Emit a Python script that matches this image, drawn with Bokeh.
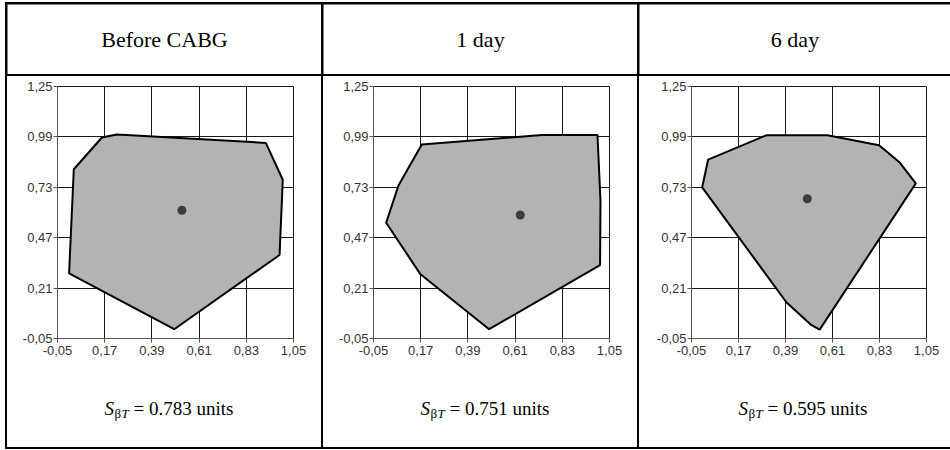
from bokeh.plotting import figure
from bokeh.layouts import row, column
from bokeh.models import Range1d, FixedTicker, CustomJSTickFormatter, Label
from bokeh.embed import file_html
from bokeh.resources import INLINE

# ---------------- data ----------------
titles = ["Before CABG", "1 day", "6 day"]
s_values = ["0.783", "0.751", "0.595"]
x_ticks = [-0.05, 0.17, 0.39, 0.61, 0.83, 1.05]
y_ticks = [-0.05, 0.21, 0.47, 0.73, 0.99, 1.25]

before_x = [0.157, 0.227, 0.921, 1.000, 0.985, 0.494, 0.004, 0.026]
before_y = [0.987, 1.002, 0.959, 0.769, 0.381, -0.002, 0.286, 0.823]
before_center = [0.530, 0.611]

day1_x = [0.175, 0.735, 0.994, 1.008, 1.006, 0.489, 0.169, 0.009, 0.067]
day1_y = [0.951, 1.000, 1.000, 0.659, 0.328, -0.002, 0.281, 0.547, 0.741]
day1_center = [0.634, 0.587]

day6_x = [0.000, 0.028, 0.302, 0.586, 0.828, 0.922, 1.000, 0.550, 0.508, 0.394]
day6_y = [0.730, 0.873, 0.999, 0.999, 0.947, 0.861, 0.750, -0.004, 0.022, 0.137]
day6_center = [0.492, 0.671]

series = [(before_x, before_y, before_center),
          (day1_x, day1_y, day1_center),
          (day6_x, day6_y, day6_center)]

# ---------------- layout / style ----------------
cell_w = [314, 314, 311]
head_h = 70
chart_h = 292
formula_h = 79
frame_left = [50, 50, 52]
frame_w = [236, 236, 235]
frame_top = 10
frame_h = 252

SERIF = "Liberation Serif"
SANS = "Liberation Sans"
fmt_code = "return tick.toFixed(2).replace('.', ',');"


def blank_fig(w, h, left=0, right=0):
    f = figure(width=w, height=h, x_axis_type=None, y_axis_type=None,
               min_border_left=left, min_border_right=right,
               min_border_top=0, min_border_bottom=0,
               output_backend="svg", toolbar_location=None,
               outline_line_color=None, background_fill_color="white",
               border_fill_color="white", x_range=Range1d(0, 1), y_range=Range1d(0, 1))
    f.grid.visible = False
    return f


heads = []
bodies = []
for i in range(3):
    h = blank_fig(cell_w[i], head_h)
    h.add_layout(Label(x=0.5, y=0.5, text=titles[i], text_font=SERIF, text_font_size="22px",
                       text_align="center", text_baseline="middle", text_color="black"))
    heads.append(h)

    xs, ys, c = series[i]
    right = cell_w[i] - frame_left[i] - frame_w[i]
    p = figure(width=cell_w[i], height=chart_h,
               x_range=Range1d(-0.05, 1.05), y_range=Range1d(-0.05, 1.25),
               min_border_left=frame_left[i], min_border_right=right,
               min_border_top=frame_top,
               min_border_bottom=chart_h - frame_top - frame_h,
               output_backend="svg", toolbar_location=None,
               background_fill_color="white", border_fill_color="white",
               outline_line_color="#1a1a1a", outline_line_width=1)
    p.xaxis.ticker = FixedTicker(ticks=x_ticks)
    p.yaxis.ticker = FixedTicker(ticks=y_ticks)
    for ax in (p.xaxis, p.yaxis):
        ax.formatter = CustomJSTickFormatter(code=fmt_code)
        ax.major_label_text_font = SANS
        ax.major_label_text_font_size = "13px"
        ax.major_label_text_color = "#333333"
        ax.major_tick_out = 4
        ax.major_tick_in = 0
        ax.minor_tick_line_color = None
        ax.axis_line_color = "#555555"
        ax.major_tick_line_color = "#555555"
    p.xaxis.major_label_standoff = 3
    p.yaxis.major_label_standoff = 1
    p.grid.grid_line_color = "#1a1a1a"
    p.grid.grid_line_alpha = 1.0
    p.grid.grid_line_width = 1

    p.patch(xs, ys, fill_color="#b3b3b3", line_color="black", line_width=2)
    p.scatter([c[0]], [c[1]], size=9, fill_color="#3d3d3d", line_color=None)

    # formula row: frame aligned with the chart frame; positions as fractions of the frame
    f = blank_fig(cell_w[i], formula_h, left=frame_left[i], right=right)
    fw = float(frame_w[i])
    base = 0.49
    sub = base - 5 / formula_h
    f.add_layout(Label(x=47 / fw, y=base, text="S",
                       text_font=SERIF, text_font_style="italic", text_font_size="19px",
                       text_baseline="alphabetic", text_color="black"))
    f.add_layout(Label(x=57 / fw, y=sub, text="β",
                       text_font=SERIF, text_font_size="13px",
                       text_baseline="alphabetic", text_color="black"))
    f.add_layout(Label(x=64 / fw, y=sub, text="T",
                       text_font=SERIF, text_font_style="italic", text_font_size="13px",
                       text_baseline="alphabetic", text_color="black"))
    f.add_layout(Label(x=76 / fw, y=base, text="= " + s_values[i] + " units",
                       text_font=SERIF, text_font_size="19px",
                       text_baseline="alphabetic", text_color="black"))
    bodies.append(column(p, f, spacing=0, styles={"background-color": "white"}))

layout = column(row(heads, spacing=2), row(bodies, spacing=2), spacing=2,
                styles={"background-color": "black", "padding": "2px 0px 2px 2px",
                        "margin": "2px 0px 0px 5px"})

open("out.html", "w").write(file_html(layout, INLINE))
